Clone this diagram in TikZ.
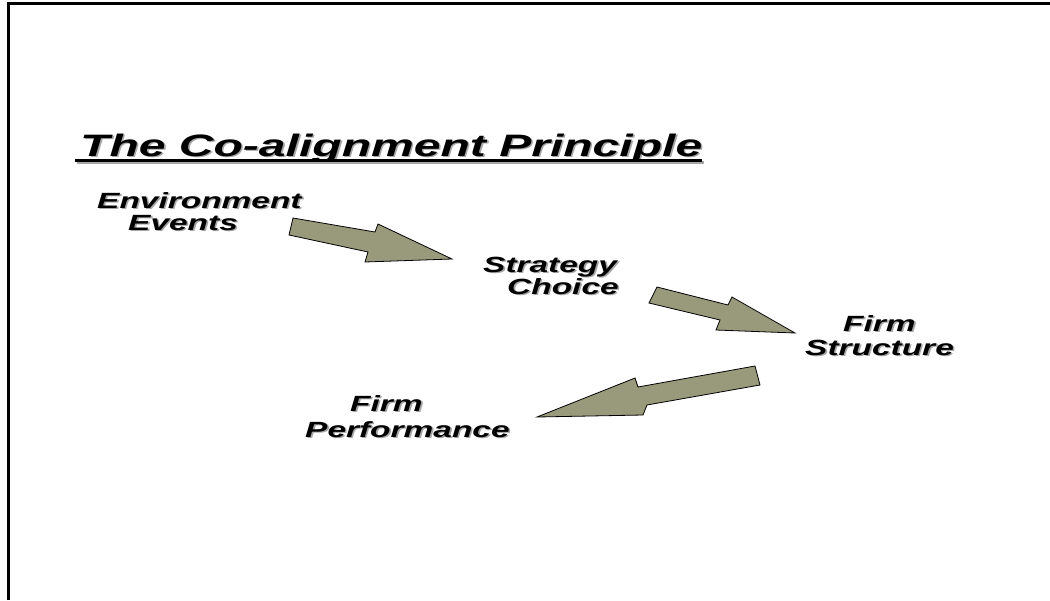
\documentclass[tikz,border=0pt]{standalone}
\usepackage{fontspec}
\setmainfont{Liberation Sans}
\usetikzlibrary{calc,positioning}

\definecolor{arrowfill}{RGB}{153,153,124}
\newcommand\widefactor{1.52}
\newcommand\wide[1]{\scalebox{\widefactor}[1]{#1}}
\newcommand\shd[1]{\makebox[0pt][l]{\hspace{1.6pt}\smash{\raisebox{-1.6pt}{\textcolor{black!35}{\wide{#1}}}}}\wide{#1}}

\begin{document}
\begin{tikzpicture}[x=1pt,y=-1pt]
    \def\lblSize{22}
    \def\titleSize{31}

    \tikzstyle{lbl}=[inner sep=0pt,anchor=base west,font=\fontsize{\lblSize}{26}\selectfont\bfseries\itshape]
    \tikzstyle{heading}=[inner sep=0pt,anchor=base west,font=\fontsize{\titleSize}{36}\selectfont\bfseries\itshape]
    \tikzstyle{blockarrow}=[fill=arrowfill,draw=black,line width=0.8pt,line join=miter]

    \useasboundingbox (0,0) rectangle (1050,600);

    % Frame
    \draw[line width=3pt] (8.5,600) -- (8.5,3.5) -- (1050,3.5);

    % Title
    \node[heading] (title) at (80,156) {\renewcommand\widefactor{1.55}\shd{The Co-alignment Principle}};
    \draw[black!35,line width=3pt] ($(title.base west)+(-3.5,6)$) -- ($(title.base east)+(1.5,6)$);
    \draw[line width=3pt] ($(title.base west)+(-5,4.5)$) -- ($(title.base east)+(0,4.5)$);

    % Labels
    \node[lbl] (env) at (97,208) {\shd{Environment}};
    \node[lbl] (events) at (128,230) {\shd{Events}};
    \node[lbl] (strategy) at (483,272) {\shd{Strategy}};
    \node[lbl] (choice) at (507,294) {\shd{Choice}};
    \node[lbl] (firmA) at (843,331) {\shd{Firm}};
    \node[lbl] (structure) at (805,355) {\shd{Structure}};
    \node[lbl] (firmB) at (350,411) {\shd{Firm}};
    \node[lbl] (performance) at (305,437) {\shd{Performance}};

    % Arrows
    \draw[blockarrow] (293,218) -- (375,232) -- (378,224) -- (452,259) -- (365,262) -- (368,252) -- (289,235) -- cycle;
    \draw[blockarrow] (657,287) -- (728,305) -- (732,297) -- (795,333) -- (716,330) -- (720,320) -- (649,303) -- cycle;
    \draw[blockarrow] (755,366) -- (760,385) -- (647,405) -- (643,415) -- (537,417) -- (635,378) -- (638,387) -- cycle;
\end{tikzpicture}
\end{document}
